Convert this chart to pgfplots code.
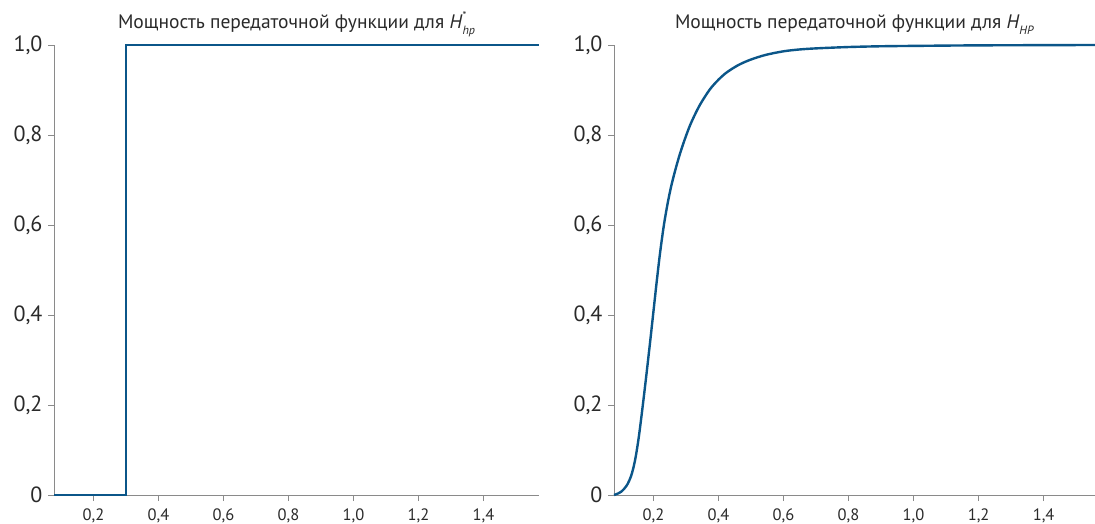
\documentclass[border=0pt]{standalone}
\usepackage{fontspec}
\setmainfont{PT Sans}
\usepackage{pgfplots}
\pgfplotsset{compat=1.18}

\definecolor{curve}{HTML}{0B5689}
\definecolor{axgray}{HTML}{8A8A8A}
\definecolor{txt}{HTML}{2A2A2A}

\pgfplotsset{
  panel/.style={
    scale only axis,
    height=450pt,
    xmin=0.0785, ymin=0, ymax=1,
    clip=false,
    axis x line*=bottom,
    axis y line*=left,
    axis line style={axgray, line width=0.9pt, -},
    tick style={axgray, line width=0.9pt},
    tick align=outside,
    major tick length=6pt,
    xtick={0.2,0.4,0.6,0.8,1.0,1.2,1.4},
    xticklabels={{0,2},{0,4},{0,6},{0,8},{1,0},{1,2},{1,4}},
    ytick={0,0.2,0.4,0.6,0.8,1.0},
    yticklabels={0,{0,2},{0,4},{0,6},{0,8},{1,0}},
    xticklabel style={font=\fontsize{16.5}{19}\selectfont, text=txt, yshift=-4pt},
    yticklabel style={font=\fontsize{22}{26}\selectfont, text=txt, xshift=-2pt},
    title style={at={(0.5,1)}, anchor=base, yshift=10pt,
      font=\fontsize{19.5}{22}\selectfont, text=txt},
  }
}

\begin{document}
\begin{tikzpicture}
\useasboundingbox (0pt,0pt) rectangle (1095pt,523pt);
\begin{axis}[panel, at={(54pt,28pt)}, anchor=south west, width=485pt, xmax=1.5708,
  title={Мощность передаточной функции для \textit{H}\rlap{\raisebox{0.95ex}{\fontsize{11}{11}\selectfont *}}\raisebox{-0.55ex}{\fontsize{12}{12}\selectfont\textit{hp}}}]
\addplot[curve, line width=2.4pt] coordinates {
  (0.0785,0) (0.3,0) (0.3,1) (1.5708,1)
};
\end{axis}
\begin{axis}[panel, at={(614pt,28pt)}, anchor=south west, width=481pt, xmax=1.558,
  title={Мощность передаточной функции для \textit{H}\raisebox{-0.55ex}{\fontsize{12}{12}\selectfont\textit{HP}}}]
\addplot[curve, line width=2.4pt, smooth, tension=0.5] coordinates {
  (0.0785,0.000) (0.090,0.003) (0.100,0.007) (0.110,0.014) (0.120,0.024)
  (0.130,0.040) (0.138,0.060) (0.146,0.088) (0.155,0.130) (0.165,0.187)
  (0.177,0.260) (0.190,0.343) (0.200,0.409) (0.210,0.475) (0.220,0.537)
  (0.232,0.600) (0.244,0.650) (0.255,0.688) (0.267,0.722) (0.280,0.755)
  (0.296,0.790) (0.315,0.826) (0.342,0.866) (0.373,0.901) (0.400,0.923)
  (0.425,0.939) (0.460,0.955) (0.497,0.967) (0.545,0.978) (0.600,0.986)
  (0.648,0.990) (0.700,0.9925) (0.800,0.9955) (0.900,0.9972) (1.000,0.998)
  (1.200,0.9992) (1.558,1.000)
};
\end{axis}
\end{tikzpicture}
\end{document}
